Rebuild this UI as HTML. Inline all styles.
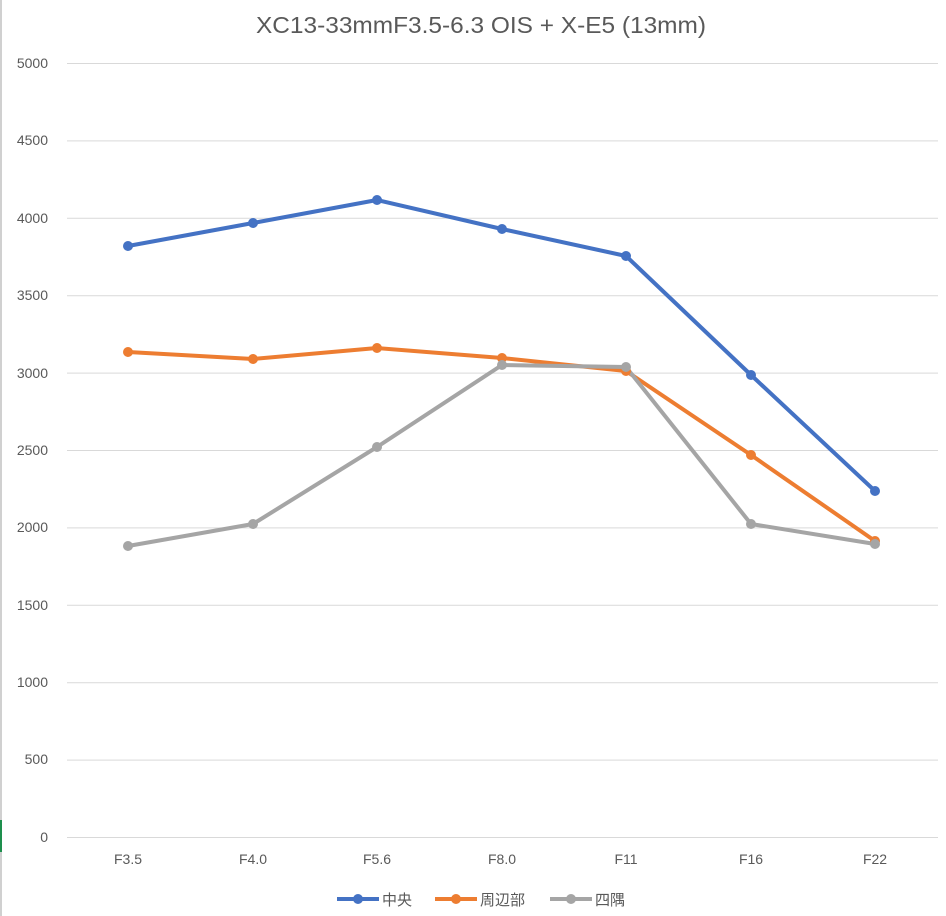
<!DOCTYPE html>
<html><head><meta charset="utf-8"><style>body{margin:0;background:#fff}svg{display:block}</style></head><body>
<svg width="946" height="916" xmlns="http://www.w3.org/2000/svg" font-family="'Liberation Sans','Noto Sans CJK JP',sans-serif">
<rect width="946" height="916" fill="#fff"/>
<rect x="0" y="0" width="2" height="916" fill="#d0d0d0"/>
<rect x="0" y="820" width="2" height="32" fill="#1e8f4e"/>
<text x="256" y="33" font-size="23" fill="#595959" textLength="450" lengthAdjust="spacingAndGlyphs">XC13-33mmF3.5-6.3 OIS + X-E5 (13mm)</text>
<g stroke="#d9d9d9" stroke-width="1">
<line x1="67" x2="938" y1="63.5" y2="63.5"/><line x1="67" x2="938" y1="140.9" y2="140.9"/><line x1="67" x2="938" y1="218.3" y2="218.3"/><line x1="67" x2="938" y1="295.7" y2="295.7"/><line x1="67" x2="938" y1="373.1" y2="373.1"/><line x1="67" x2="938" y1="450.5" y2="450.5"/><line x1="67" x2="938" y1="527.9" y2="527.9"/><line x1="67" x2="938" y1="605.3" y2="605.3"/><line x1="67" x2="938" y1="682.7" y2="682.7"/><line x1="67" x2="938" y1="760.1" y2="760.1"/><line x1="67" x2="938" y1="837.5" y2="837.5"/>
</g>
<g font-size="14" fill="#595959" text-anchor="end">
<text x="48" y="68">5000</text><text x="48" y="145">4500</text><text x="48" y="223">4000</text><text x="48" y="300">3500</text><text x="48" y="378">3000</text><text x="48" y="455">2500</text><text x="48" y="532">2000</text><text x="48" y="610">1500</text><text x="48" y="687">1000</text><text x="48" y="764">500</text><text x="48" y="842">0</text>
</g>
<g font-size="14" fill="#595959" text-anchor="middle">
<text x="128" y="864">F3.5</text><text x="253" y="864">F4.0</text><text x="377" y="864">F5.6</text><text x="502" y="864">F8.0</text><text x="626" y="864">F11</text><text x="751" y="864">F16</text><text x="875" y="864">F22</text>
</g>
<g fill="none" stroke-width="4" stroke-linejoin="round">
<polyline stroke="#4472c4" points="128,246 253,223 377,200 502,229 626,256 751,375 875,491"/>
<polyline stroke="#ed7d31" points="128,352 253,359 377,348 502,358 626,371 751,455 875,541"/>
<polyline stroke="#a5a5a5" points="128,546 253,524 377,447 502,365 626,367 751,524 875,544"/>
</g>
<g fill="#4472c4"><circle cx="128" cy="246" r="5"/><circle cx="253" cy="223" r="5"/><circle cx="377" cy="200" r="5"/><circle cx="502" cy="229" r="5"/><circle cx="626" cy="256" r="5"/><circle cx="751" cy="375" r="5"/><circle cx="875" cy="491" r="5"/></g>
<g fill="#ed7d31"><circle cx="128" cy="352" r="5"/><circle cx="253" cy="359" r="5"/><circle cx="377" cy="348" r="5"/><circle cx="502" cy="358" r="5"/><circle cx="626" cy="371" r="5"/><circle cx="751" cy="455" r="5"/><circle cx="875" cy="541" r="5"/></g>
<g fill="#a5a5a5"><circle cx="128" cy="546" r="5"/><circle cx="253" cy="524" r="5"/><circle cx="377" cy="447" r="5"/><circle cx="502" cy="365" r="5"/><circle cx="626" cy="367" r="5"/><circle cx="751" cy="524" r="5"/><circle cx="875" cy="544" r="5"/></g>
<g font-size="15" fill="#595959">
<line x1="337" x2="379" y1="899" y2="899" stroke="#4472c4" stroke-width="4"/><circle cx="358" cy="899" r="5" fill="#4472c4"/><text x="382" y="905">中央</text>
<line x1="435" x2="477" y1="899" y2="899" stroke="#ed7d31" stroke-width="4"/><circle cx="456" cy="899" r="5" fill="#ed7d31"/><text x="480" y="905">周辺部</text>
<line x1="550" x2="592" y1="899" y2="899" stroke="#a5a5a5" stroke-width="4"/><circle cx="571" cy="899" r="5" fill="#a5a5a5"/><text x="595" y="905">四隅</text>
</g>
</svg>
</body></html>
